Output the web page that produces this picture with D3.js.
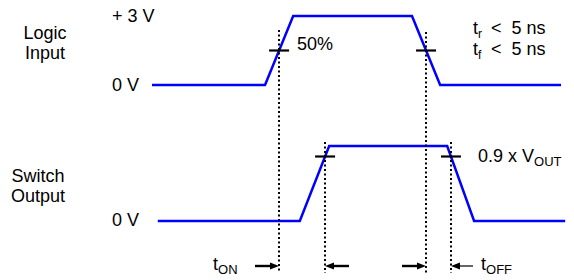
<!DOCTYPE html>
<html>
<head>
<meta charset="utf-8">
<script src="https://cdn.jsdelivr.net/npm/d3@7"></script>
<style>
 body { margin: 0; background: #fff; }
 text { font-family: "Liberation Sans", Arial, sans-serif; fill: #000; }
</style>
</head>
<body>
<svg id="chart" width="574" height="280"></svg>
<script>
// waveform corner points (time in arbitrary units, level 0..1)
var inputTimes = [0, 27.3, 34.1, 62.8, 69.6, 98.8];
var inputLevels = [0, 0, 1, 1, 0, 0];
var outputTimes = [1.4, 35.7, 42.8, 71.3, 77.8, 99.8];
var outputLevels = [0, 0, 1, 1, 0, 0];

// measurement thresholds (as drawn)
var inputThreshold = 0.5;
var outputThreshold = 0.86;

// labels
var inputLevelLabels = ['0 V', '+ 3 V'];
var outputLevelLabels = ['0 V'];
var traceNames = [['Logic', 'Input'], ['Switch', 'Output']];
var edgeNotes = [['r', '<  5 ns'], ['f', '<  5 ns']];
var thresholdLabels = ['50%', '0.9 x V', 'OUT'];
var timingLabels = [['t', 'ON'], ['t', 'OFF']];

var svg = d3.select('#chart');

var x = d3.scaleLinear().domain([0, 100]).range([152, 566]);
var yIn = d3.scaleLinear().domain([0, 1]).range([85, 16]);
var yOut = d3.scaleLinear().domain([0, 1]).range([221, 146]);

var blue = 'rgb(0, 0, 255)';

// crossing time of a threshold on the edge between point i and i+1
function crossing(times, levels, i, th)
{
 return times[i] + (th - levels[i]) / (levels[i+1] - levels[i]) * (times[i+1] - times[i]);
}

var line = function(yScale)
{
 return d3.line().x(function(d) { return x(d[0]); }).y(function(d) { return yScale(d[1]); });
};

// waveforms
svg.append('path')
 .datum(d3.zip(inputTimes, inputLevels))
 .attr('d', line(yIn))
 .style('fill', 'none').style('stroke', blue).style('stroke-width', '2.5px');

svg.append('path')
 .datum(d3.zip(outputTimes, outputLevels))
 .attr('d', line(yOut))
 .style('fill', 'none').style('stroke', blue).style('stroke-width', '2.5px');

var tInRise = crossing(inputTimes, inputLevels, 1, inputThreshold);
var tInFall = crossing(inputTimes, inputLevels, 3, inputThreshold);
var tOutRise = crossing(outputTimes, outputLevels, 1, outputThreshold);
var tOutFall = crossing(outputTimes, outputLevels, 3, outputThreshold);

var arrowY = 266;

// dotted guides (snapped to whole pixels so the dots stay crisp)
[[tInRise, yIn(1) + 14], [tInFall, yIn(1) + 16], [tOutRise, yOut(1) - 4], [tOutFall, yOut(1) - 4]]
 .forEach(function(g)
 {
  var gx = Math.round(x(g[0]));
  svg.append('line')
   .attr('x1', gx).attr('x2', gx)
   .attr('y1', g[1]).attr('y2', 273)
   .style('stroke', '#000').style('stroke-width', '2px')
   .style('stroke-dasharray', '2,2.5');
 });

// threshold ticks
[[tInRise, yIn(inputThreshold)], [tInFall, yIn(inputThreshold)],
 [tOutRise, yOut(outputThreshold)], [tOutFall, yOut(outputThreshold)]]
 .forEach(function(t)
 {
  svg.append('line')
   .attr('x1', x(t[0]) - 10).attr('x2', x(t[0]) + 10)
   .attr('y1', t[1]).attr('y2', t[1])
   .style('stroke', '#000').style('stroke-width', '2.2px');
 });

// arrows: tip time, direction (+1 points right), length, line width
function arrow(t, dir, len, w)
{
 var tip = Math.round(x(t));
 var tail = tip - dir * len;
 svg.append('line')
  .attr('x1', tail).attr('x2', tip - dir * 6)
  .attr('y1', arrowY).attr('y2', arrowY)
  .style('stroke', '#000').style('stroke-width', w + 'px');
 svg.append('path')
  .attr('d', 'M' + tip + ',' + arrowY + 'L' + (tip - dir * 9) + ',' + (arrowY - 3.5) +
   'L' + (tip - dir * 9) + ',' + (arrowY + 3.5) + 'Z')
  .style('fill', '#000');
}
arrow(tInRise, 1, 24, 2.4);
arrow(tOutRise, -1, 24, 2.4);
arrow(tInFall, 1, 24, 2.4);
arrow(tOutFall, -1, 22, 1.2);

// texts
var fs = 18;
function label(tx, ty, str, anchor)
{
 return svg.append('text').attr('x', tx).attr('y', ty)
  .attr('font-size', fs).attr('text-anchor', anchor || 'start').text(str);
}

label(112, 22, inputLevelLabels[1]);
label(112, 91, inputLevelLabels[0]);
label(112, 226, outputLevelLabels[0]);

label(45, 39, traceNames[0][0], 'middle');
label(45, 59, traceNames[0][1], 'middle');
label(38, 182, traceNames[1][0], 'middle');
label(38, 202, traceNames[1][1], 'middle');

label(x(tInRise) + 18, yIn(inputThreshold) - 1, thresholdLabels[0]);

edgeNotes.forEach(function(n, i)
{
 var ty = 34 + i * 21;
 var tx = svg.append('text').attr('x', 473).attr('y', ty).attr('font-size', fs);
 tx.append('tspan').text('t');
 tx.append('tspan').attr('font-size', 12).attr('dy', 4).text(n[0]);
 svg.append('text').attr('x', 491).attr('y', ty).attr('font-size', fs)
  .style('white-space', 'pre').text(n[1]);
});

var vout = svg.append('text').attr('x', 478).attr('y', 162).attr('font-size', fs);
vout.append('tspan').text(thresholdLabels[1]);
vout.append('tspan').attr('font-size', 13).attr('dy', 4).text(thresholdLabels[2]);

[213, 481].forEach(function(tx, i)
{
 var t = svg.append('text').attr('x', tx).attr('y', 270).attr('font-size', fs);
 t.append('tspan').text(timingLabels[i][0]);
 t.append('tspan').attr('font-size', 13).attr('dy', 4).text(timingLabels[i][1]);
});
</script>
</body>
</html>
